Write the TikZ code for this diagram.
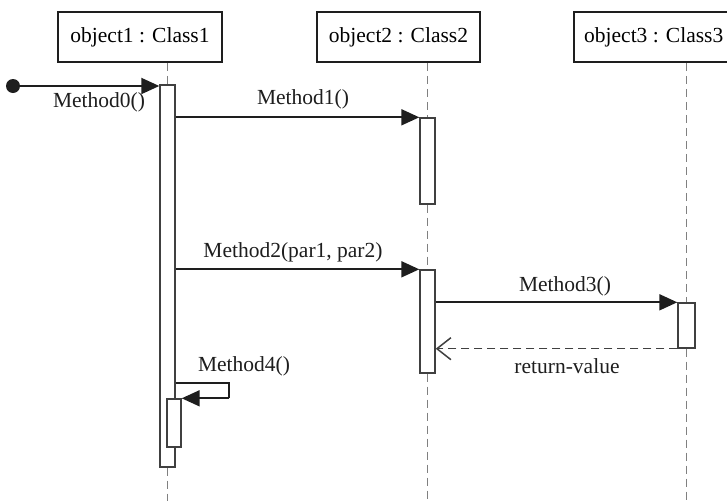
\documentclass[tikz,border=0pt]{standalone}
\usepackage{fontspec}
\setmainfont{Liberation Serif}
\usetikzlibrary{arrows.meta}
\definecolor{ink}{HTML}{1E1E1E}
\definecolor{lifegray}{HTML}{808080}
\tikzset{
  objbox/.style={draw=ink, line width=1.5pt, fill=white, minimum width=164pt, minimum height=50pt, inner sep=0pt, font=\fontsize{21.5}{24}\selectfont},
  actbar/.style={draw=ink!85, line width=1.4pt, fill=white, inner sep=0pt, minimum width=15pt},
  lifeline/.style={draw=lifegray, line width=1.6pt, dash pattern=on 8pt off 5pt},
  msg/.style={draw=ink, line width=1.9pt, -{Triangle[length=18pt,width=16pt]}},
  selfline/.style={draw=ink, line width=1.9pt},
  retmsg/.style={draw=ink!85, line width=1.5pt, dash pattern=on 8pt off 5pt, -{Straight Barb[length=14pt,width=22pt,line width=1.5pt]}},
  lbl/.style={inner sep=0pt, font=\fontsize{21.5}{24}\selectfont, text=ink},
  startdot/.style={circle, fill=ink, inner sep=0pt, minimum size=14pt}
}
\begin{document}
\begin{tikzpicture}[x=1pt, y=-1pt]
\useasboundingbox (0,0) rectangle (727,501);
\clip (0,0) rectangle (727,501);
\fill[white] (0,0) rectangle (727,501);
% bars (positions only, drawn later)
\path
  (167.5,276) node[actbar, minimum height=382pt] (b1) {}
  (427.5,161) node[actbar, minimum height=86pt] (b2a) {}
  (427.5,321.5) node[actbar, minimum height=103pt] (b2b) {}
  (686.5,325.5) node[actbar, minimum width=17pt, minimum height=45pt] (b3) {}
  (174,423) node[actbar, minimum width=14pt, minimum height=48pt] (b4) {};
% object boxes
\node[objbox] (o1) at (140,37) {object1 : Class1};
\node[objbox, minimum width=163pt] (o2) at (398.5,37) {object2 : Class2};
\node[objbox, anchor=west] (o3) at (573,37) {\hspace*{10pt}object3 : Class3\hspace*{14pt}};
% end coordinates
\coordinate (e1) at (167.5,501);
\coordinate (e2) at (427.5,501);
\coordinate (e3) at (686.5,501);
% lifelines
\draw[lifeline] (b1.north |- o1.south) -- (b1.north);
\draw[lifeline] (b1.south) -- (e1);
\draw[lifeline] (b2a.north |- o2.south) -- (b2a.north);
\draw[lifeline] (b2a.south) -- (b2b.north);
\draw[lifeline] (b2b.south) -- (e2);
\draw[lifeline] (b3.north |- o3.south) -- (b3.north);
\draw[lifeline] (b3.south) -- (e3);
% redraw bars on top
\node[actbar, minimum height=382pt] at (b1) {};
\node[actbar, minimum height=86pt] at (b2a) {};
\node[actbar, minimum height=103pt] at (b2b) {};
\node[actbar, minimum width=17pt, minimum height=45pt] at (b3) {};
% start
\node[startdot] (start) at (13,86) {};
\draw[msg] (start) -- (start -| b1.west);
\node[lbl] (l0) at (99,102) {Method0()};
% Method1
\draw[msg] (b1.east |- b2a.north west) -- (b2a.north west);
\node[lbl] (l1) at (303,99) {Method1()};
% Method2
\draw[msg] (b1.east |- b2b.north west) -- (b2b.north west);
\node[lbl] (l2) at (293,252) {Method2(par1, par2)};
% Method3
\draw[msg] (b2b.east |- b3.north west) -- (b3.north west);
\node[lbl] (l3) at (565,286) {Method3()};
% return
\draw[retmsg] (b3.south west) -- (b2b.east |- b3.south west);
\node[lbl] (l5) at (567,366) {return-value};
% self call
\coordinate (c4) at (229,383);
\draw[selfline] (b1.east |- c4) -- (c4) -- (c4 |- b4.north east);
\node[actbar, minimum width=14pt, minimum height=48pt] at (b4) {};
\draw[msg] (c4 |- b4.north east) -- (b4.north east);
\node[lbl] (l4) at (244,366) {Method4()};
\end{tikzpicture}
\end{document}
